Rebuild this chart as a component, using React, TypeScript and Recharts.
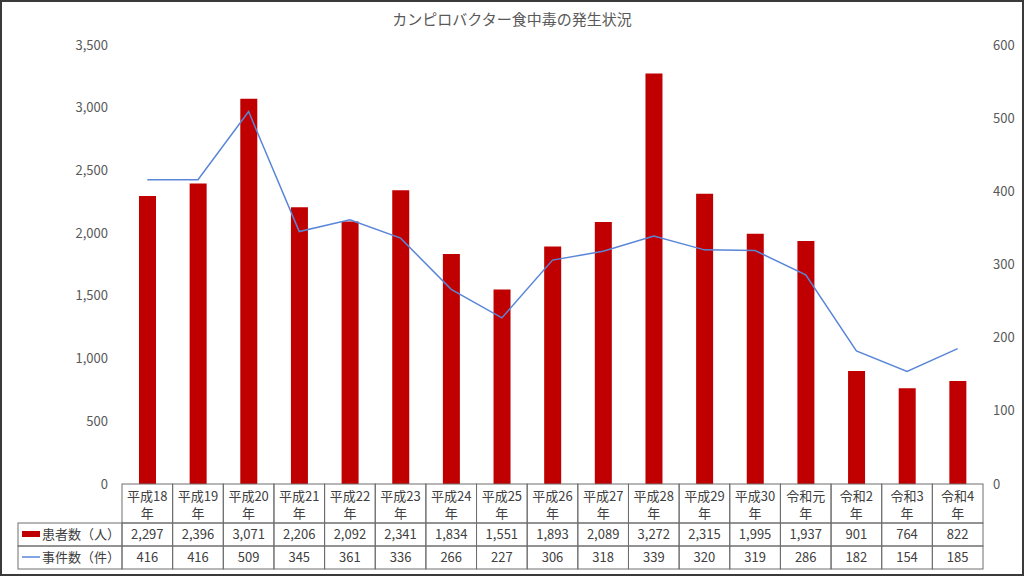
import { ComposedChart, Bar, Line, XAxis, YAxis } from 'recharts';

const categories = [
  '平成18年', '平成19年', '平成20年', '平成21年', '平成22年', '平成23年',
  '平成24年', '平成25年', '平成26年', '平成27年', '平成28年', '平成29年',
  '平成30年', '令和元年', '令和2年', '令和3年', '令和4年',
];
const patients = [2297, 2396, 3071, 2206, 2092, 2341, 1834, 1551, 1893, 2089, 3272, 2315, 1995, 1937, 901, 764, 822];
const incidents = [416, 416, 509, 345, 361, 336, 266, 227, 306, 318, 339, 320, 319, 286, 182, 154, 185];
const leftTicks = [0, 500, 1000, 1500, 2000, 2500, 3000, 3500];
const rightTicks = [0, 100, 200, 300, 400, 500, 600];

const data = categories.map((c, i) => ({ name: c, patients: patients[i], incidents: incidents[i] }));

const W = 1024;
const H = 576;
const PLOT_LEFT = 122;
const PLOT_RIGHT = 983;
const PLOT_TOP = 45;
const PLOT_BOTTOM = 484;
const COL_W = (PLOT_RIGHT - PLOT_LEFT) / categories.length;
const ROW_HEAD = 39;
const ROW = 23;
const LEGEND_LEFT = 18;
const BORDER = '#6e6e6e';
const TXT = '#404040';
const LINE_COLOR = '#5A86D8';
const FONT = '"Noto Sans CJK JP", sans-serif';

function TableTick(props: any) {
  const { x, payload, index } = props;
  const label: string = payload.value;
  const left = x - COL_W / 2;
  const y0 = PLOT_BOTTOM;
  const y1 = y0 + ROW_HEAD;
  const y2 = y1 + ROW;
  const cell = { fill: 'none', stroke: BORDER, strokeWidth: 1 };
  const txt = { fontSize: 13, fill: TXT, fontFamily: FONT, textAnchor: 'middle' as const };
  return (
    <g>
      <rect x={left} y={y0} width={COL_W} height={ROW_HEAD} {...cell} />
      <rect x={left} y={y1} width={COL_W} height={ROW} {...cell} />
      <rect x={left} y={y2} width={COL_W} height={ROW} {...cell} />
      <text x={x} y={y0 + 17} {...txt}>{label.slice(0, -1)}</text>
      <text x={x} y={y0 + 34} {...txt}>年</text>
      <text x={x} y={y1 + 16} {...txt}>{patients[index].toLocaleString('en-US')}</text>
      <text x={x} y={y2 + 16} {...txt}>{incidents[index]}</text>
      {index === 0 && (
        <g>
          <rect x={LEGEND_LEFT} y={y1} width={PLOT_LEFT - LEGEND_LEFT} height={ROW} {...cell} />
          <rect x={LEGEND_LEFT} y={y2} width={PLOT_LEFT - LEGEND_LEFT} height={ROW} {...cell} />
          <rect x={LEGEND_LEFT + 4} y={y1 + 8} width={18} height={6} fill="#C00000" />
          <line x1={LEGEND_LEFT + 4} x2={LEGEND_LEFT + 22} y1={y2 + 11} y2={y2 + 11} stroke={LINE_COLOR} strokeWidth={1.5} />
          <text x={LEGEND_LEFT + 24} y={y1 + 16} fontSize={13} fill={TXT} fontFamily={FONT}>患者数（人）</text>
          <text x={LEGEND_LEFT + 24} y={y2 + 16} fontSize={13} fill={TXT} fontFamily={FONT}>事件数（件）</text>
        </g>
      )}
    </g>
  );
}

export default function App() {
  return (
    <div style={{
      position: 'absolute', left: 0, top: 0, width: W, height: H,
      background: '#fff', fontFamily: FONT,
    }}>
      <div style={{
        position: 'absolute', left: 0, top: 0, width: W, height: H,
        border: '2px solid #3a3a3a', boxSizing: 'border-box', pointerEvents: 'none', zIndex: 2,
      }} />
      <div style={{
        position: 'absolute', top: 8, left: 0, width: W, textAlign: 'center',
        fontSize: 15, color: '#595959',
      }}>
        カンピロバクター食中毒の発生状況
      </div>
      <ComposedChart
        width={W}
        height={H}
        data={data}
        margin={{ top: PLOT_TOP, right: 0, bottom: 0, left: 0 }}
        barCategoryGap={0}
      >
        <XAxis
          dataKey="name"
          interval={0}
          height={H - PLOT_BOTTOM}
          axisLine={false}
          tickLine={false}
          tick={<TableTick />}
        />
        <YAxis
          yAxisId="left"
          width={PLOT_LEFT}
          domain={[0, 3500]}
          ticks={leftTicks}
          axisLine={false}
          tickLine={false}
          tickMargin={8}
          tickFormatter={(v: number) => v.toLocaleString('en-US')}
          tick={{ fontSize: 13, fill: '#595959', fontFamily: FONT }}
        />
        <YAxis
          yAxisId="right"
          orientation="right"
          width={W - PLOT_RIGHT}
          domain={[0, 600]}
          ticks={rightTicks}
          axisLine={false}
          tickLine={false}
          tickMargin={4}
          tick={{ fontSize: 13, fill: '#595959', fontFamily: FONT, textAnchor: 'start' }}
        />
        <Bar yAxisId="left" dataKey="patients" fill="#C00000" barSize={17} isAnimationActive={false} />
        <Line
          yAxisId="right"
          type="linear"
          dataKey="incidents"
          stroke={LINE_COLOR}
          strokeWidth={1.5}
          dot={false}
          isAnimationActive={false}
        />
      </ComposedChart>
    </div>
  );
}
